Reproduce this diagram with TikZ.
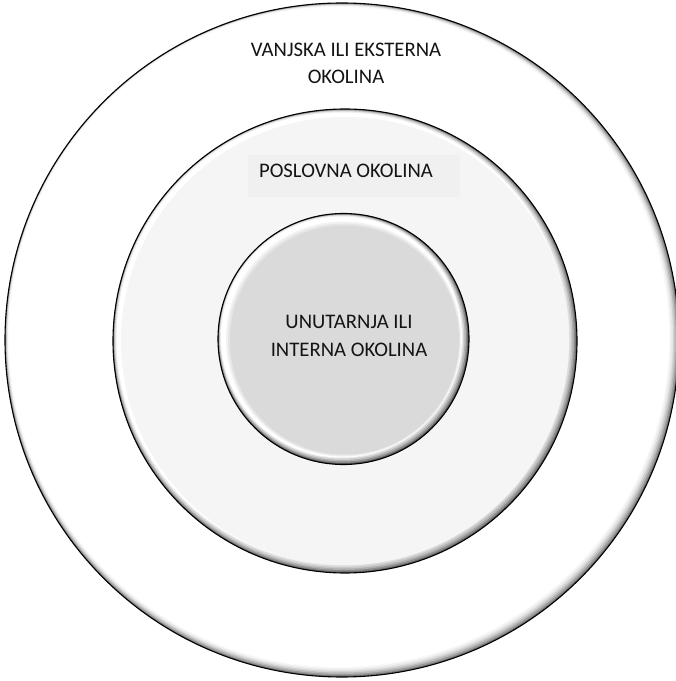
\documentclass[tikz,border=0pt]{standalone}
\usepackage{fontspec}
\setmainfont{Carlito}
\usetikzlibrary{calc}
\definecolor{midfill}{RGB}{245,245,245}
\definecolor{boxfill}{RGB}{240,240,240}
\definecolor{inFill}{RGB}{218,218,218}
\definecolor{txt}{RGB}{20,20,20}
\tikzset{
  rim/.style={draw=black, line width=1.1pt},
  lbl/.style={text=txt, font=\fontsize{20.7}{27.5}\selectfont, align=center, inner sep=0pt}
}
\begin{document}
\begin{tikzpicture}[x=1pt,y=1pt]
\useasboundingbox (0,0) rectangle (676,681);
\fill[white] (0,0) rectangle (676,681);
% ---------- outer circle ----------
\coordinate (oc) at (342,341);
\foreach \dx/\dy/\dr/\c in {0/0/0/black!55,-0.5/0.5/1/black!40,-1/1/2/black!28,-1.5/1.5/3/black!18,-2/2/4/black!10,-2.5/2.5/5/black!5,-3/3/6/black!2,-3/3/7/white}
  \fill[\c] ($(oc)+(\dx,\dy)$) circle ({337-\dr});
\draw[rim] (oc) circle (337);
% ---------- middle circle ----------
\coordinate (mc) at (345,340);
\foreach \dx/\dy/\dr/\c in {0/0/0/black!60,-0.5/0.5/1/black!45,-1/1/2/black!32,-1.5/1.5/3/black!22,-2/2/4/black!14,-2.5/2.5/5/black!8,-2.5/2.5/6/white,0/0/8/midfill}
  \fill[\c] ($(mc)+(\dx,\dy)$) circle ({232-\dr});
\draw[rim] (mc) circle (232);
% ---------- inner circle ----------
\coordinate (ic) at (343.5,342);
\foreach \dx/\dy/\dr/\c in {0/0/0/black!65,-0.5/0.5/1/black!45,-1/1/2/black!30,-1.5/1.5/3/black!18,-2/2/4/black!8,-2/2/5/white,0/0/8/black!5,0.5/-0.5/9.5/black!10,1/-1/11/inFill}
  \fill[\c] ($(ic)+(\dx,\dy)$) circle ({125.5-\dr});
\draw[rim] (ic) circle (125.5);
% ---------- labels ----------
\node[lbl] (outer) at (346,617.5) {VANJSKA ILI EKSTERNA\\OKOLINA};
\node[fill=boxfill, minimum width=212pt, minimum height=42pt, inner sep=0pt] (box) at (354,505) {};
\node[lbl] (middle) at (346,510) {POSLOVNA OKOLINA};
\node[lbl] (inner) at (349,345) {UNUTARNJA ILI\\INTERNA OKOLINA};
\end{tikzpicture}
\end{document}
